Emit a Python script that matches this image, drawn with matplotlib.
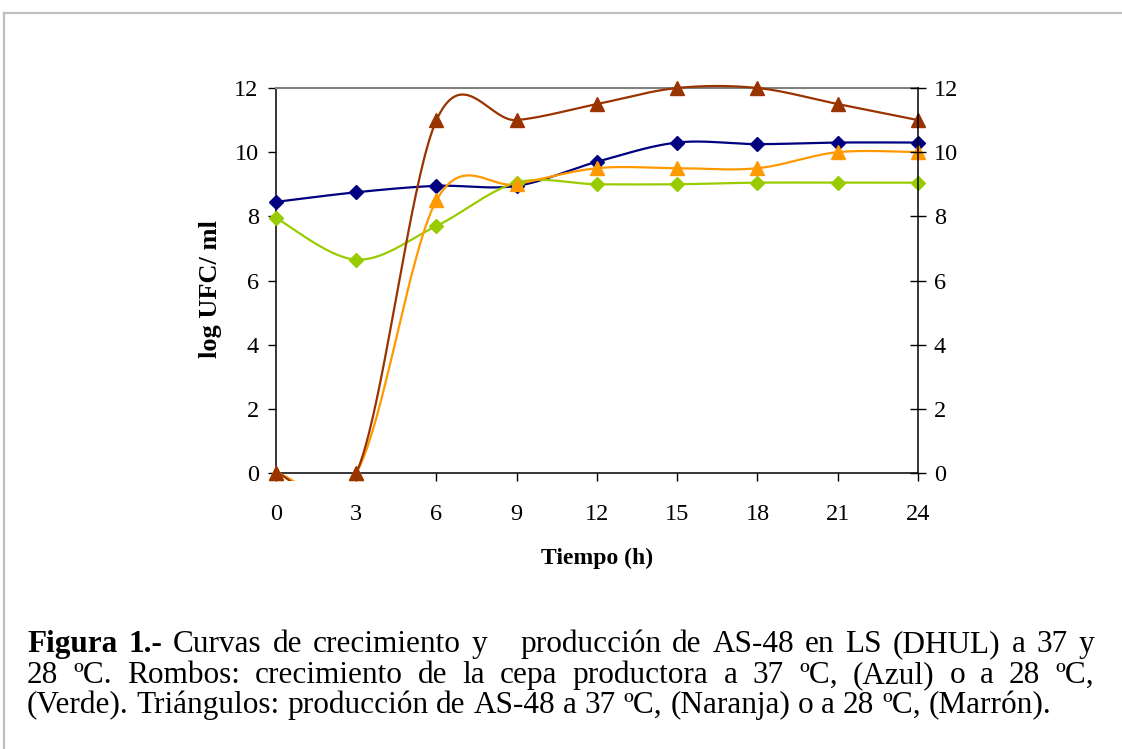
import numpy as np
import matplotlib
matplotlib.use("Agg")
import matplotlib.pyplot as plt
from matplotlib.lines import Line2D
from matplotlib.patches import Rectangle

plt.rcParams['font.family'] = ['Liberation Serif', 'DejaVu Serif']

# data
tiempo = [0, 3, 6, 9, 12, 15, 18, 21, 24]
azul_37 = [8.45, 8.75, 8.95, 8.95, 9.7, 10.3, 10.25, 10.3, 10.3]
verde_28 = [7.95, 6.65, 7.7, 9.05, 9.0, 9.0, 9.05, 9.05, 9.05]
naranja_37 = [0, 0, 8.5, 9.0, 9.5, 9.5, 9.5, 10.0, 10.0]
marron_28 = [0, 0, 11.0, 11.0, 11.5, 12.0, 12.0, 11.5, 11.0]

series = [
    (azul_37, '#000080', 'D', 7.2),
    (verde_28, '#99CC00', 'D', 7.2),
    (naranja_37, '#FF9900', '^', 10.0),
    (marron_28, '#993300', '^', 10.0),
]

caption = [
    [("Figura", 'bold'), ("1.-", 'bold'), ("Curvas", 'normal'), ("de", 'normal'),
     ("crecimiento", 'normal'), ("y", 'normal'), ("", 'normal'), ("", 'normal'),
     ("producción", 'normal'), ("de", 'normal'), ("AS-48", 'normal'), ("en", 'normal'),
     ("LS", 'normal'), ("(DHUL)", 'normal'), ("a", 'normal'), ("37", 'normal'), ("y", 'normal')],
    [(w, 'normal') for w in "28 ºC. Rombos: crecimiento de la cepa productora a 37 ºC, (Azul) o a 28 ºC,".split()],
    [(w, 'normal') for w in "(Verde). Triángulos: producción de AS-48 a 37 ºC, (Naranja) o a 28 ºC, (Marrón).".split()],
]


def excel_smooth(x, y, n=40):
    # bezier smoothing like excel "smoothed line"
    pts = np.column_stack([x, y]).astype(float)
    out = []
    for i in range(len(pts) - 1):
        p0 = pts[i - 1] if i > 0 else pts[i]
        p1 = pts[i]
        p2 = pts[i + 1]
        p3 = pts[i + 2] if i + 2 < len(pts) else pts[i + 1]
        c1 = p1 + (p2 - p0) / 6
        c2 = p2 - (p3 - p1) / 6
        t = np.linspace(0, 1, n)[:, None]
        seg = (1 - t) ** 3 * p1 + 3 * (1 - t) ** 2 * t * c1 + 3 * (1 - t) * t ** 2 * c2 + t ** 3 * p2
        out.append(seg if i == 0 else seg[1:])
    return np.vstack(out)


fig = plt.figure(figsize=(11.22, 7.49), dpi=100)
W, H = 1122, 749
ax = fig.add_axes([276 / W, 1 - 473 / H, (918 - 276) / W, (473 - 88) / H])

clip = Rectangle((0, -0.02), 1, 1.04, transform=ax.transAxes, facecolor='none', edgecolor='none')
ax.add_patch(clip)
for vals, col, mk, ms in series:
    curve = excel_smooth(tiempo, vals)
    ln, = ax.plot(curve[:, 0], curve[:, 1], color=col, lw=1.6, zorder=3)
    ln.set_clip_path(clip)
    ax.plot(tiempo, vals, linestyle='none', marker=mk, markersize=ms, color=col,
            clip_on=False, zorder=4)

ax.set_xlim(0, 24)
ax.set_ylim(0, 12)
ax.set_xticks(tiempo)
ax.set_yticks(range(0, 13, 2))
ax.tick_params(axis='x', direction='out', length=5.5, width=1, pad=17, labelsize=17.5)
ax.tick_params(axis='y', direction='out', length=5.5, width=1, pad=7, labelsize=17.5)
ax.spines['top'].set_color('#808080')
ax.spines['top'].set_linewidth(1.5)
ax.spines['right'].set_visible(False)
for s in ['left', 'bottom']:
    ax.spines[s].set_linewidth(1.1)

ax2 = ax.twinx()
ax2.set_ylim(0, 12)
ax2.set_yticks(range(0, 13, 2))
ax2.tick_params(axis='y', direction='inout', length=11, width=1, pad=6, labelsize=17.5)
ax2.spines['top'].set_visible(False)
ax2.spines['left'].set_visible(False)
ax2.spines['bottom'].set_visible(False)
ax2.spines['right'].set_linewidth(1.1)

fig.text(597 / W, 1 - 558 / H, "Tiempo (h)", ha='center', va='center', fontsize=17, fontweight='bold')
fig.text(211 / W, 1 - 289 / H, "log UFC/ ml", ha='center', va='center', rotation=90,
         fontsize=19, fontweight='bold')

# frame around the figure
fig.add_artist(Line2D([4 / W, 1], [1 - 13 / H, 1 - 13 / H], color='#C0C0C0', lw=1.6))
fig.add_artist(Line2D([4 / W, 4 / W], [0, 1 - 13 / H], color='#C0C0C0', lw=1.6))

# caption, justified word by word
renderer = fig.canvas.get_renderer()
fs = 22.5
x_left, x_right = 27, 1094
baselines = [652, 683, 713]
for li, words in enumerate(caption):
    texts = []
    widths = []
    for w, wt in words:
        t = fig.text(0, 1 - baselines[li] / H, w, fontsize=fs, fontweight=wt, va='baseline', ha='left')
        texts.append(t)
        widths.append(t.get_window_extent(renderer).width if w else 0.0)
    ngaps = len(words) - 1
    if li < len(caption) - 1:
        gap = (x_right - x_left - sum(widths)) / ngaps
    else:
        gap = 0.25 * fs * 100 / 72
    x = x_left
    for t, wd in zip(texts, widths):
        t.set_x(x / W)
        x += wd + gap

fig.savefig("out.png", dpi=100)
